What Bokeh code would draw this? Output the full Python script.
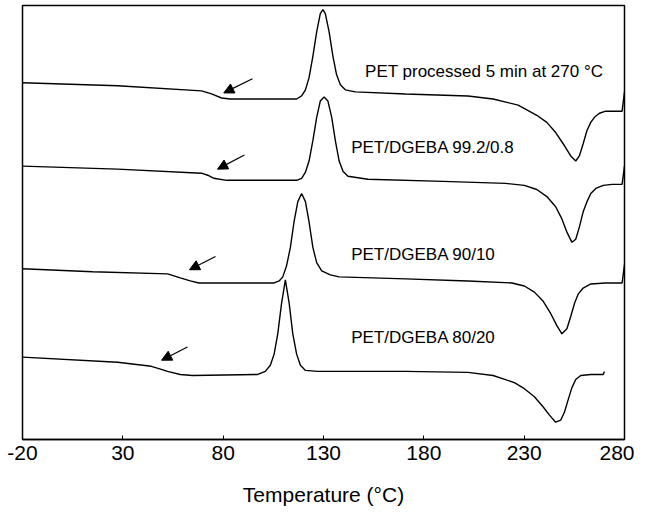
from bokeh.plotting import figure
from bokeh.models import Range1d, FixedTicker, Arrow, NormalHead, Label
from bokeh.embed import file_html
from bokeh.resources import INLINE

# ---- data (temperature in °C, heat flow in arbitrary units, curves offset) ----
t1 = [-20.0, 27.4, 69.2, 74.2, 79.2, 83.5, 116.6, 119.1, 121.0, 122.8, 124.7, 126.6, 128.4, 129.7,
      130.9, 132.8, 134.7, 136.5, 138.4, 140.9, 145.9, 170.9, 202.0, 214.5, 227.0, 236.3, 241.3,
      245.7, 250.1, 253.2, 255.7, 257.5, 259.4, 261.3, 263.2, 265.0, 267.5, 270.6, 278.8, 280.0]
h1 = [351, 348, 343, 340, 336, 335, 335, 338, 344, 356, 377, 401, 419, 423,
      419, 401, 377, 359, 349, 344, 342, 340, 338, 335, 329, 319, 312,
      302, 289, 279, 274, 279, 291, 304, 312, 317, 321, 323, 323, 342]

t2 = [-20.0, 27.4, 69.2, 72.3, 75.4, 81.7, 116.6, 119.1, 121.0, 122.8, 124.7, 126.6, 128.4, 130.3,
      132.2, 134.1, 135.9, 137.8, 139.7, 142.2, 152.1, 189.6, 220.7, 230.1, 236.3, 241.3, 245.7,
      248.8, 251.3, 253.8, 255.7, 257.5, 259.4, 261.3, 263.2, 265.7, 269.4, 273.8, 278.8, 280.0]
h2 = [269, 266, 262, 260, 257, 255, 255, 257, 263, 274, 294, 317, 333, 337,
      333, 317, 294, 274, 264, 259, 256, 254, 252, 250, 246, 239, 229,
      217, 204, 194, 197, 209, 224, 234, 242, 247, 250, 251, 251, 269]

t3 = [-20.0, 14.9, 52.3, 55.5, 58.6, 63.6, 67.9, 105.4, 107.9, 109.7, 111.6, 113.5, 115.3, 117.2,
      119.1, 121.0, 122.8, 124.7, 126.6, 129.1, 133.4, 137.8, 170.9, 202.0, 223.9, 230.1, 235.1,
      239.5, 243.2, 246.3, 248.8, 251.3, 253.2, 255.1, 256.9, 259.4, 263.2, 270.6, 278.8, 280.0]
h3 = [168, 165, 163, 161, 159, 156, 154, 154, 156, 160, 171, 189, 214, 234,
      242, 234, 214, 189, 174, 166, 162, 160, 158, 156, 154, 151, 145,
      136, 124, 112, 104, 109, 121, 134, 143, 149, 153, 154, 154, 172]

t4 = [-20.0, 27.4, 44.2, 49.2, 52.3, 58.6, 64.8, 97.3, 101.0, 103.5, 105.4, 107.2, 109.1, 111.0,
      112.9, 114.7, 116.6, 118.5, 121.0, 127.2, 170.9, 202.0, 214.5, 225.1, 230.1, 235.1, 239.5,
      242.6, 245.7, 248.2, 250.1, 251.9, 253.8, 255.7, 258.2, 263.2, 269.4, 270.0]
h4 = [81, 76, 72, 69, 67, 64, 63, 64, 67, 73, 84, 104, 134, 157,
      134, 104, 84, 73, 68, 67, 67, 66, 63, 56, 50, 42, 32,
      24, 17, 19, 27, 39, 51, 59, 63, 64, 64, 67]

series_labels = ["PET processed 5 min at 270 °C", "PET/DGEBA 99.2/0.8",
                 "PET/DGEBA 90/10", "PET/DGEBA 80/20"]
label_x = [150.7, 143.8, 143.8, 143.8]
label_y = [362, 287, 182, 100]

# glass-transition arrows (tail -> head)
arrow_x_tail = [94.6, 90.6, 76.2, 62.2]
arrow_y_tail = [355, 280, 180, 91]
arrow_x_head = [80.3, 77.2, 63.2, 49.3]
arrow_y_head = [341, 266, 167, 78]

x_ticks = [-20, 30, 80, 130, 180, 230, 280]
x_tick_labels = ["-20", "30", "80", "130", "180", "230", "280"]
x_title = "Temperature (°C)"

FONT = "Liberation Sans"

p = figure(width=634, height=508, output_backend="svg", toolbar_location=None,
           x_range=Range1d(-20, 280), y_range=Range1d(0, 427),
           min_border_left=22, min_border_right=10, min_border_top=5, min_border_bottom=0)

for t, h in [(t1, h1), (t2, h2), (t3, h3), (t4, h4)]:
    p.line(t, h, line_color="black", line_width=1.4)

for i in range(4):
    p.add_layout(Arrow(end=NormalHead(size=10, fill_color="black", line_color="black"),
                       x_start=arrow_x_tail[i], y_start=arrow_y_tail[i],
                       x_end=arrow_x_head[i], y_end=arrow_y_head[i],
                       line_color="black", line_width=1.2))
    p.add_layout(Label(x=label_x[i], y=label_y[i], text=series_labels[i],
                       text_font=FONT, text_font_size="17px", text_baseline="middle",
                       text_color="black"))

p.grid.visible = False
p.yaxis.visible = False
p.outline_line_color = "black"
p.outline_line_width = 1.5
p.outline_line_alpha = 1.0

ax = p.xaxis[0]
ax.ticker = FixedTicker(ticks=x_ticks)
ax.major_label_overrides = {t: s for t, s in zip(x_ticks, x_tick_labels)}
ax.minor_tick_line_color = None
ax.major_tick_in = 4
ax.major_tick_out = 0
ax.major_label_standoff = 6
ax.major_label_text_font = FONT
ax.major_label_text_font_size = "21px"
ax.major_label_text_color = "black"
ax.axis_line_color = "black"
ax.axis_line_width = 1.5
ax.axis_label = x_title
ax.axis_label_text_font = FONT
ax.axis_label_text_font_size = "21px"
ax.axis_label_text_font_style = "normal"
ax.axis_label_text_color = "black"
ax.axis_label_standoff = 20

open("out.html", "w").write(file_html(p, INLINE))
